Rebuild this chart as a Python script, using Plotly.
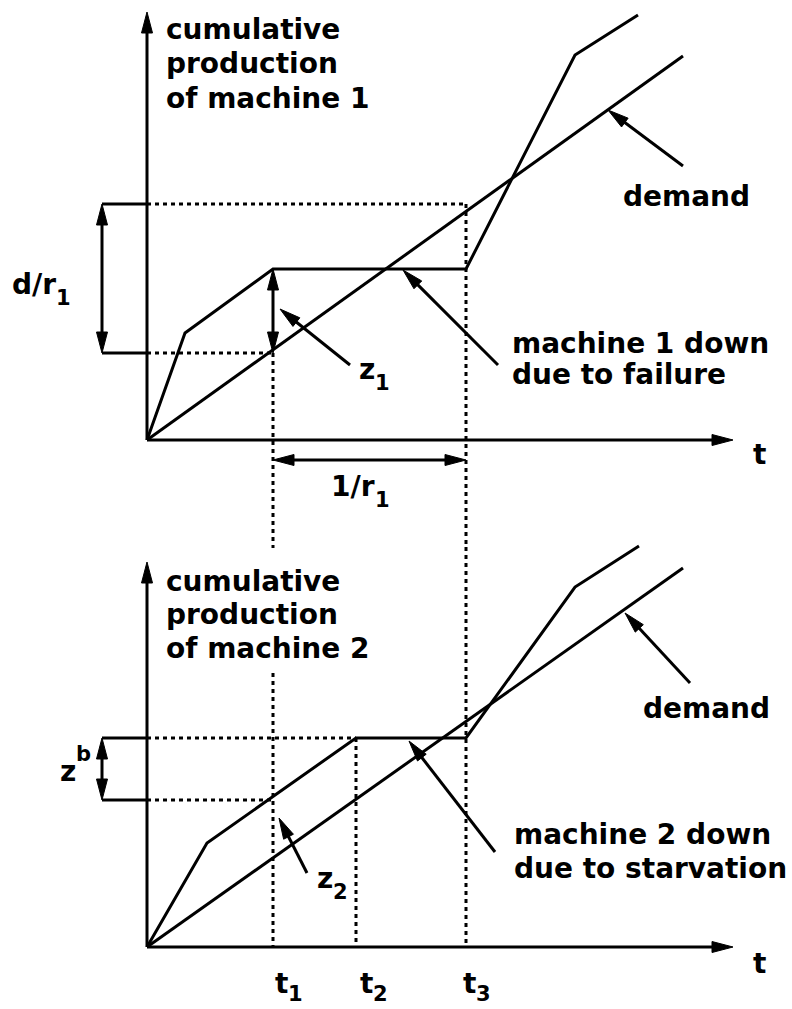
import math
import plotly.graph_objects as go

# ---- data (time units on x, cumulative production units on y; origin at 0) ----
T1, T2, T3 = 12.6, 20.9, 31.9

# machine 1 panel
demand1_t = [0, 53.6]
demand1_q = [0, 38.4]
prod1_t = [0, 3.8, T1, T3, 42.8, 49.1]
prod1_q = [0, 10.7, 17.1, 17.1, 38.5, 42.5]
dr1_low, dr1_high = 8.7, 23.6

# machine 2 panel
demand2_t = [0, 53.6]
demand2_q = [0, 37.9]
prod2_t = [0, 6.0, T2, T3, 42.8, 49.2]
prod2_q = [0, 10.4, 20.9, 20.9, 36.0, 40.1]
zb_low, zb_high = 14.7, 20.9

# axis extents
t_axis_end = 58.6
q1_axis_end = 42.8
q2_axis_end = 38.5

# ---- styling ----
INK = "#000000"
FONT = dict(family="DejaVu Sans", size=28, color=INK, weight="bold")
SUB_SIZE = 21
SOLID_W = 3
DASH_W = 3
DASH = "4px,4px"
HEAD_L = 2.1   # arrowhead length (x units)
HEAD_W = 0.55  # arrowhead half width

fig = go.Figure()


def line(xs, ys, yaxis="y", dash=None, width=SOLID_W):
    fig.add_trace(go.Scatter(
        x=xs, y=ys, yaxis=yaxis, mode="lines",
        line=dict(color=INK, width=width, dash=dash or "solid"),
        hoverinfo="skip", showlegend=False))


def head(x_tip, y_tip, x_from, y_from, yaxis="y"):
    dx, dy = x_tip - x_from, y_tip - y_from
    n = math.hypot(dx, dy)
    ux, uy = dx / n, dy / n
    bx, by = x_tip - ux * HEAD_L, y_tip - uy * HEAD_L
    px, py = -uy * HEAD_W, ux * HEAD_W
    fig.add_trace(go.Scatter(
        x=[x_tip, bx + px, bx - px, x_tip], y=[y_tip, by + py, by - py, y_tip],
        yaxis=yaxis, mode="lines", fill="toself", fillcolor=INK,
        line=dict(color=INK, width=1), hoverinfo="skip", showlegend=False))


def arrow(x0, y0, x1, y1, yaxis="y", both=False, width=SOLID_W):
    dx, dy = x1 - x0, y1 - y0
    n = math.hypot(dx, dy)
    ux, uy = dx / n, dy / n
    sx, sy = (x0 + ux * HEAD_L * 0.8, y0 + uy * HEAD_L * 0.8) if both else (x0, y0)
    ex, ey = x1 - ux * HEAD_L * 0.8, y1 - uy * HEAD_L * 0.8
    line([sx, ex], [sy, ey], yaxis=yaxis, width=width)
    head(x1, y1, x0, y0, yaxis)
    if both:
        head(x0, y0, x1, y1, yaxis)


def label(x, y, text, yaxis="y", size=28, anchor="left"):
    """Text placed by its baseline (y) and left/right edge (x)."""
    fig.add_annotation(
        x=x, y=y + 0.032 * size, xref="x", yref=yaxis, text=text,
        showarrow=False, xanchor=anchor, yanchor="middle", borderpad=0,
        font=dict(FONT, size=size))


def indexed(x_split, y, base, index, yaxis="y", shift=-1.2):
    """Symbol with a small index set right after it (shift < 0: subscript)."""
    label(x_split, y, base, yaxis, anchor="right")
    label(x_split - 0.2, y + shift, index, yaxis, size=SUB_SIZE)


# ================= machine 1 panel =================
# axes
arrow(0, 0, 0, q1_axis_end)
arrow(0, 0, t_axis_end, 0)

# guide lines
line([0, T3], [dr1_high, dr1_high], dash=DASH, width=DASH_W)
line([0, T1], [dr1_low, dr1_low], dash=DASH, width=DASH_W)
line([T1, T1], [dr1_low, -10.8], dash=DASH, width=DASH_W)
line([T3, T3], [dr1_high, -10.8], dash=DASH, width=DASH_W)

# d/r1 bracket
line([-4.5, 0], [dr1_high, dr1_high])
line([-4.5, 0], [dr1_low, dr1_low])
arrow(-4.5, dr1_low, -4.5, dr1_high, both=True)

# demand and production curves
line(demand1_t, demand1_q)
line(prod1_t, prod1_q)

# z1 and 1/r1 dimension arrows
arrow(T1, dr1_low, T1, prod1_q[2], both=True)
arrow(T1, -2.0, T3, -2.0, both=True)

# pointers
arrow(53.6, 27.4, 46.1, 33.0)
arrow(35.1, 7.5, 25.6, 17.0)
arrow(20.3, 7.5, 13.3, 13.1)

label(1.8, 40.2, "cumulative")
label(1.8, 36.8, "production")
label(1.8, 33.3, "of machine 1")
indexed(-9.0, 14.7, "d/r", "1")
indexed(22.9, 6.2, "z", "1")
indexed(22.9, -5.5, "1/r", "1")
label(47.5, 23.5, "demand")
label(36.4, 8.8, "machine 1 down")
label(36.4, 5.7, "due to failure")
label(60.5, -2.3, "t")

# ================= machine 2 panel =================
arrow(0, 0, 0, q2_axis_end, yaxis="y2")
arrow(0, 0, t_axis_end, 0, yaxis="y2")

line([0, T2], [zb_high, zb_high], yaxis="y2", dash=DASH, width=DASH_W)
line([0, T1], [zb_low, zb_low], yaxis="y2", dash=DASH, width=DASH_W)
line([T1, T1], [27.4, 0], yaxis="y2", dash=DASH, width=DASH_W)
line([T2, T2], [zb_high, 0], yaxis="y2", dash=DASH, width=DASH_W)
line([T3, T3], [40.0, 0], yaxis="y2", dash=DASH, width=DASH_W)

# z^b bracket
line([-4.5, 0], [zb_high, zb_high], yaxis="y2")
line([-4.5, 0], [zb_low, zb_low], yaxis="y2")
arrow(-4.5, zb_low, -4.5, zb_high, yaxis="y2", both=True)

line(demand2_t, demand2_q, yaxis="y2")
line(prod2_t, prod2_q, yaxis="y2")

arrow(54.3, 26.4, 47.8, 33.4, yaxis="y2")
arrow(34.8, 9.5, 26.2, 20.6, yaxis="y2")
arrow(16.0, 7.4, 13.2, 12.9, yaxis="y2")

label(1.8, 35.7, "cumulative", "y2")
label(1.8, 32.4, "production", "y2")
label(1.8, 29.0, "of machine 2", "y2")
indexed(-7.0, 16.7, "z", "b", "y2", shift=1.9)
label(49.5, 23.0, "demand", "y2")
label(36.6, 10.4, "machine 2 down", "y2")
label(36.6, 7.0, "due to starvation", "y2")
indexed(18.7, 6.0, "z", "2", "y2")
label(60.5, -2.5, "t", "y2")
indexed(14.2, -4.5, "t", "1", "y2", shift=-0.9)
indexed(22.7, -4.5, "t", "2", "y2", shift=-0.9)
indexed(33.0, -4.5, "t", "3", "y2", shift=-0.9)

# ---- layout: 10 px per unit on every axis ----
fig.update_layout(
    width=792, height=1009,
    margin=dict(l=0, r=0, t=0, b=0, pad=0),
    paper_bgcolor="white", plot_bgcolor="white",
    showlegend=False,
    xaxis=dict(range=[-14.7, 64.5], visible=False, fixedrange=True),
    yaxis=dict(range=[-56.9, 44.0], visible=False, fixedrange=True),
    yaxis2=dict(range=[-6.2, 94.7], visible=False, fixedrange=True,
                overlaying="y"),
)

fig.write_html("out.html")
